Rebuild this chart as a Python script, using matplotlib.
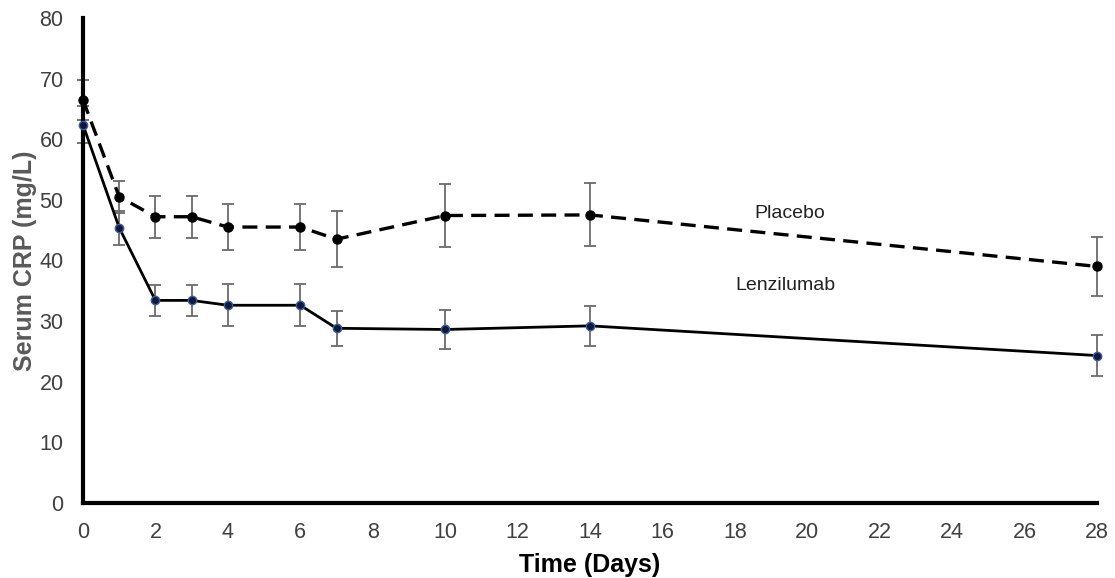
import numpy as np
import matplotlib.pyplot as plt

plt.rcParams['font.family'] = ['Liberation Sans', 'DejaVu Sans']

days = [0, 1, 2, 3, 4, 6, 7, 10, 14, 28]
placebo = [66.5, 50.5, 47.2, 47.2, 45.5, 45.5, 43.5, 47.4, 47.5, 39.0]
placebo_err = [3.3, 2.6, 3.5, 3.5, 3.8, 3.8, 4.6, 5.2, 5.2, 4.9]
lenz = [62.4, 45.4, 33.4, 33.4, 32.6, 32.6, 28.8, 28.6, 29.2, 24.3]
lenz_err = [3.0, 2.8, 2.6, 2.6, 3.5, 3.5, 2.9, 3.2, 3.3, 3.4]

fig = plt.figure(figsize=(11.15, 5.78), dpi=100)
ax = fig.add_axes([0.0744, 0.130, 0.9096, 0.839])

ax.errorbar(days, placebo, yerr=placebo_err, fmt='none', ecolor='#6b6b6b',
            elinewidth=1.3, capsize=4, capthick=1.3, clip_on=False, zorder=2)
ax.errorbar(days, lenz, yerr=lenz_err, fmt='none', ecolor='#6b6b6b',
            elinewidth=1.3, capsize=4, capthick=1.3, clip_on=False, zorder=2)

ax.plot(days, placebo, color='black', linestyle=(0, (4.5, 2.5)), linewidth=2.4,
        marker='o', markersize=6.5, markerfacecolor='black',
        markeredgecolor='black', clip_on=False, zorder=3)
ax.plot(days, lenz, color='black', linestyle='-', linewidth=2,
        marker='o', markersize=6, markerfacecolor='#0f1a3a',
        markeredgecolor='#3b5aa8', markeredgewidth=1, clip_on=False, zorder=3)

ax.text(19.5, 47.8, 'Placebo', fontsize=14, ha='center', va='center', color='#222222')
ax.text(19.4, 35.8, 'Lenzilumab', fontsize=14, ha='center', va='center', color='#222222')

ax.set_xlim(0, 28)
ax.set_ylim(0, 80)
ax.set_xticks(np.arange(0, 29, 2))
ax.set_yticks(np.arange(0, 81, 10))
ax.tick_params(length=0, labelsize=15.5, labelcolor='#404040', pad=14)

for s in ['top', 'right']:
    ax.spines[s].set_visible(False)
for s in ['left', 'bottom']:
    ax.spines[s].set_linewidth(3)
    ax.spines[s].set_color('black')

ax.set_xlabel('Time (Days)', fontsize=18, fontweight='bold', labelpad=7)
ax.set_ylabel('Serum CRP (mg/L)', fontsize=18, fontweight='bold', color='#595959', labelpad=2)

fig.savefig('out.png', dpi=100)
